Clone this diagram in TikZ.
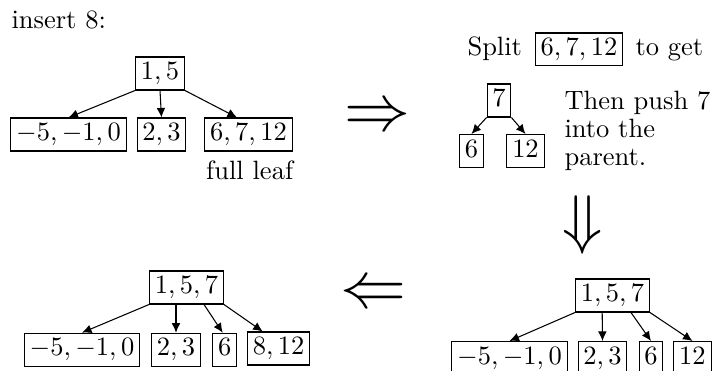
\documentclass[tikz,border=0pt]{standalone}
\usetikzlibrary{arrows.meta,calc}

\tikzset{
  key/.style={draw, inner sep=2pt, text height=6.5pt, text depth=1.94pt,
    execute at begin node=$, execute at end node=$},
  txt/.style={inner sep=0pt, anchor=base west},
  ptr/.style={-{Latex[length=3.6pt,width=3.3pt]}},
  bigsym/.style={inner sep=0pt, font=\Huge}
}

\begin{document}
\begin{tikzpicture}[x=0.37736pt, y=-0.37736pt]
\useasboundingbox (0,0) rectangle (713,371);
\clip (0,0) rectangle (713,371);

% ---- starting tree ----
\node[txt] (ins) at (11,28.3) {insert 8:};
\node[key] (p1) at (160,73.5) {1,5};
\node[key] (a1) at (68.5,134.5) {-5,-1,0};
\node[key] (a2) at (161.5,134.5) {2,3};
\node[key] (a3) at (248.5,134.5) {6,7,12};
\node[txt] (full) at (205.7,179) {full leaf};
\draw[ptr] (p1.south west) -- (a1.north);
\draw[ptr] (p1.south) -- (a2.north);
\draw[ptr] (p1.south east) -- ($(a3.north)+(-11.5,0)$);

% ---- split step ----
\node[txt] (split) at (467,55.5) {Split};
\node[key, anchor=base] (s) at (579,55.5) {6,7,12};
\node[txt] (toget) at (635,55.5) {to get};
\node[key] (t7) at (499,100.5) {7};
\node[key] (t6) at (471.5,151) {6};
\node[key] (t12) at (525.5,151) {12};
\draw[ptr] (t7.south west) -- (t6.north);
\draw[ptr] (t7.south east) -- (t12.north);
\node[txt] (push1) at (564,109) {Then push 7};
\node[txt] (push2) at (564,137) {into the};
\node[txt] (push3) at (564,165) {parent.};

% ---- big arrows between the stages ----
\node[bigsym] (goright) at (377.5,118.5) {$\Rightarrow$};
\node[bigsym] (godown) at (582.5,225) {$\Downarrow$};
\node[bigsym] (goleft) at (373.5,295.5) {$\Leftarrow$};

% ---- parent after the push ----
\node[key] (q) at (612.5,295.5) {1,5,7};
\node[key] (b1) at (509.5,358) {-5,-1,0};
\node[key] (b2) at (602.5,358) {2,3};
\node[key] (b3) at (651,358) {6};
\node[key] (b4) at (692.5,358) {12};
\draw[ptr] (q.south west) -- (b1.north);
\draw[ptr] ($(q.south)+(-10.3,0)$) -- (b2.north);
\draw[ptr] ($(q.south)+(18.5,0)$) -- (b3.north);
\draw[ptr] (q.south east) -- (b4.north);

% ---- final tree with 8 inserted ----
\node[key] (f) at (186.5,287.5) {1,5,7};
\node[key] (c1) at (82,349.7) {-5,-1,0};
\node[key] (c2) at (176,349.7) {2,3};
\node[key] (c3) at (224.7,349.7) {6};
\node[key] (c4) at (278.7,348.5) {8,12};
\draw[ptr] (f.south west) -- (c1.north);
\draw[ptr] ($(f.south)+(-10.5,0)$) -- (c2.north);
\draw[ptr] ($(f.south)+(17.5,0)$) -- ($(c3.north)+(-2,0)$);
\draw[ptr] (f.south east) -- ($(c4.north)+(-16,0)$);
\end{tikzpicture}
\end{document}
